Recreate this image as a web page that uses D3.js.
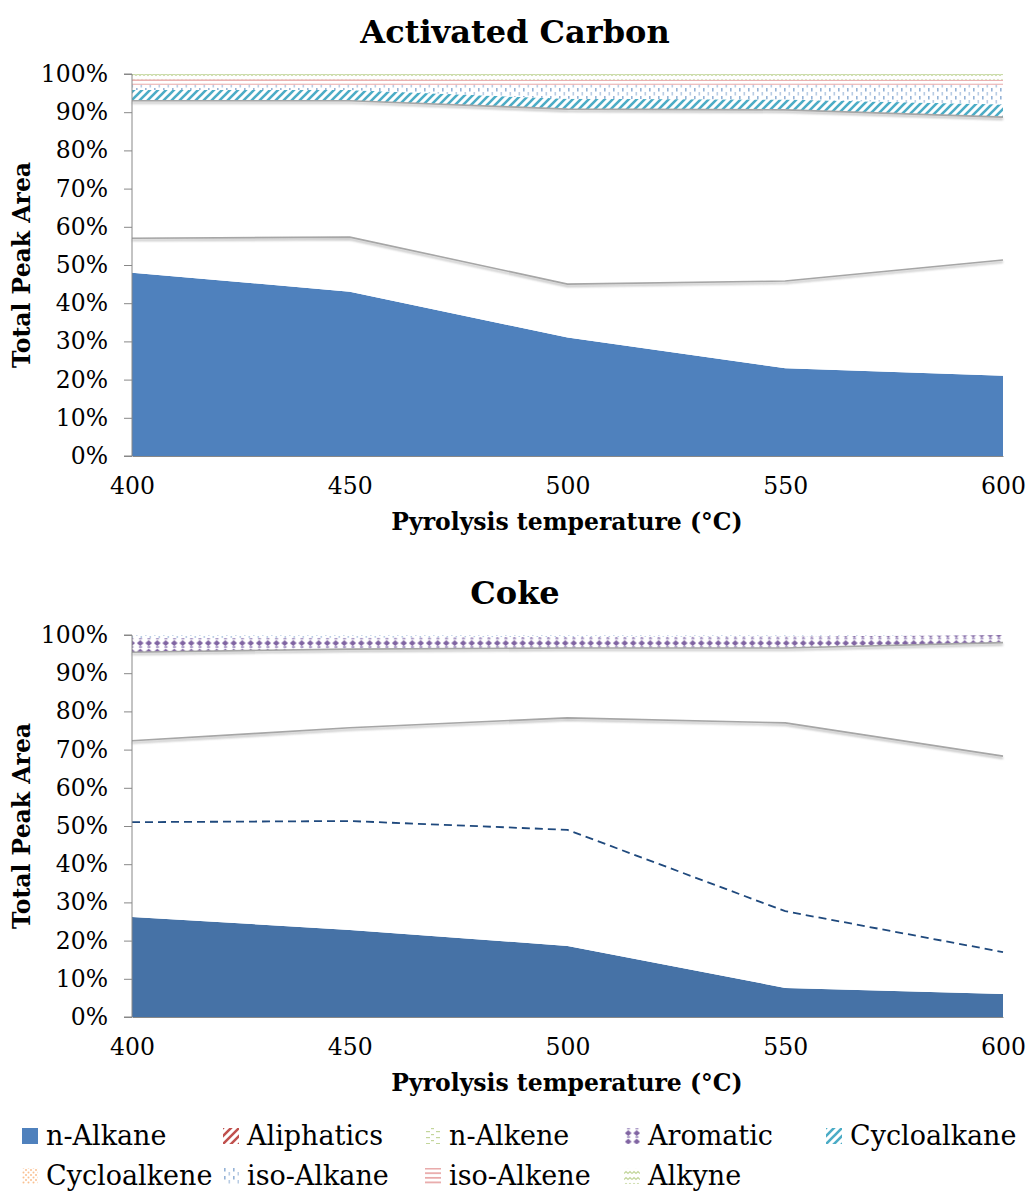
<!DOCTYPE html>
<html>
<head>
<meta charset="utf-8">
<script src="https://cdn.jsdelivr.net/npm/d3@7"></script>
<style>
  body { margin: 0; background: #fff; }
  text { font-family: "DejaVu Serif", serif; fill: #000; }
</style>
</head>
<body>
<svg id="chart" width="1027" height="1194"></svg>
<script>
// ---- data (share of total peak area, %) ----
var temps = [400, 450, 500, 550, 600];
var xTicks = [400, 450, 500, 550, 600];
var yTicks = [0, 10, 20, 30, 40, 50, 60, 70, 80, 90, 100];
var legendKeys = ["n-Alkane", "Aliphatics", "n-Alkene", "Aromatic", "Cycloalkane",
                  "Cycloalkene", "iso-Alkane", "iso-Alkene", "Alkyne"];

// Activated carbon, per layer
var acAlkane      = [48, 43, 31, 23, 21];
var acAliphatics  = [9, 14.3, 14, 22.8, 30.3];
var acAlkene      = [36, 35.7, 45.8, 44.8, 37.4];
var acAromatic    = [0, 0, 0, 0, 0];
var acCycloalkane = [2.8, 2.8, 2.7, 2.7, 3.3];
var acCycloalkene = [0, 0, 0, 0, 0];
var acIsoAlkane   = [1.4, 1.4, 3.7, 3.9, 5.2];
var acIsoAlkene   = [1.4, 1.4, 1.3, 1.3, 1.3];
var acAlkyne      = [1.4, 1.4, 1.5, 1.5, 1.5];

// Coke, per layer
var cokeAlkane      = [26.2, 22.8, 18.6, 7.6, 6];
var cokeAliphatics  = [24.8, 28.5, 30.4, 20.1, 11];
var cokeAlkene      = [21.3, 24.4, 29.3, 49.3, 51.3];
var cokeCycloalkane = [23.2, 20.6, 18.3, 19.6, 29.7];
var cokeAromatic    = [3.7, 3, 2.9, 3, 2];
var cokeIsoAlkane   = [0.8, 0.7, 0.5, 0.4, 0];
var cokeCycloalkene = [0, 0, 0, 0, 0];
var cokeIsoAlkene   = [0, 0, 0, 0, 0];
var cokeAlkyne      = [0, 0, 0, 0, 0];

var svg = d3.select("#chart");
var defs = svg.append("defs");

// drop shadow for the grey edges
var f = defs.append("filter").attr("id", "shadow")
  .attr("x", "-5%").attr("y", "-50%").attr("width", "110%").attr("height", "300%");
f.append("feDropShadow").attr("dx", 0).attr("dy", 2).attr("stdDeviation", 1.2)
  .attr("flood-color", "#808080").attr("flood-opacity", 0.6);

function pattern(id, w, h) {
  var p = defs.append("pattern").attr("id", id)
    .attr("patternUnits", "userSpaceOnUse").attr("width", w).attr("height", h);
  p.append("rect").attr("width", w).attr("height", h).attr("fill", "#fff");
  return p;
}

var p;
p = pattern("p-aliph", 8, 8);
p.append("path").attr("d", "M-2,2 L2,-2 M0,8 L8,0 M6,10 L10,6")
  .attr("stroke", "#c0504d").attr("stroke-width", 2.5);

p = pattern("p-alkene", 10, 6);
p.append("rect").attr("x", 1).attr("y", 1).attr("width", 4).attr("height", 1.2).attr("fill", "#c3d69b");
p.append("rect").attr("x", 6).attr("y", 4).attr("width", 3).attr("height", 1.2).attr("fill", "#c3d69b");

p = pattern("p-arom", 8.5, 8.5);
p.append("rect").attr("x", 3).attr("y", 0.3).attr("width", 3).attr("height", 1.4).attr("fill", "#8f7ab5");
p.append("path").attr("d", "M4.25,2.6 L7.6,5.6 L4.25,8.6 L0.9,5.6Z").attr("fill", "#8064a2");

p = pattern("p-cyclo", 8, 8);
p.append("path").attr("d", "M-2,2 L2,-2 M0,8 L8,0 M6,10 L10,6")
  .attr("stroke", "#4bacc6").attr("stroke-width", 2.6);

p = pattern("p-cyclene", 5, 5);
p.append("circle").attr("cx", 1.5).attr("cy", 1.5).attr("r", 1).attr("fill", "#fac090");
p.append("circle").attr("cx", 4).attr("cy", 4).attr("r", 1).attr("fill", "#fac090");

p = pattern("p-isoalk", 9, 8);
p.append("rect").attr("x", 1).attr("y", 0).attr("width", 1.6).attr("height", 3.5).attr("fill", "#95b3d7");
p.append("rect").attr("x", 5.5).attr("y", 4).attr("width", 1.6).attr("height", 3.5).attr("fill", "#b8cce4");

p = pattern("p-isoene", 8, 4.6);
p.append("rect").attr("x", 0).attr("y", 1).attr("width", 8).attr("height", 1.6).attr("fill", "#e6a0a0");

p = pattern("p-alkyne", 8, 6);
p.append("path").attr("d", "M0,3.5 L2,1.5 L4,3.5 L6,1.5 L8,3.5")
  .attr("fill", "none").attr("stroke", "#c3d69b").attr("stroke-width", 1.2);

var patternOf = {
  "Aliphatics": "url(#p-aliph)",
  "n-Alkene": "url(#p-alkene)",
  "Aromatic": "url(#p-arom)",
  "Cycloalkane": "url(#p-cyclo)",
  "Cycloalkene": "url(#p-cyclene)",
  "iso-Alkane": "url(#p-isoalk)",
  "iso-Alkene": "url(#p-isoene)",
  "Alkyne": "url(#p-alkyne)"
};

var x = d3.scaleLinear().domain([400, 600]).range([132, 1003]);

function drawChart(cfg) {
  var top = cfg.top, bottom = cfg.top + 382;
  var y = d3.scaleLinear().domain([0, 100]).range([bottom, top]);
  var g = svg.append("g");

  var rows = temps.map(function(t, i) {
    var r = { temp: t };
    cfg.order.forEach(function(k) { r[k] = cfg.values[k][i]; });
    return r;
  });
  var series = d3.stack().keys(cfg.order)(rows);

  var area = d3.area()
    .x(function(d) { return x(d.data.temp); })
    .y0(function(d) { return y(d[0]); })
    .y1(function(d) { return y(d[1]); });
  var topLine = d3.line()
    .x(function(d) { return x(d.data.temp); })
    .y(function(d) { return y(d[1]); });

  series.forEach(function(s) {
    var k = s.key;
    var fill;
    if (k == "n-Alkane") fill = cfg.blue;
    else if (cfg.plain[k]) fill = "#fff";
    else fill = patternOf[k];
    g.append("path").attr("d", area(s)).attr("fill", fill);
  });

  // edges of the unfilled layers
  series.forEach(function(s) {
    var edge = cfg.plain[s.key];
    if (!edge) return;
    if (edge == "dash") {
      g.append("path").attr("d", topLine(s)).attr("fill", "none")
        .attr("stroke", "#1f497d").attr("stroke-width", 1.8)
        .attr("stroke-dasharray", "8,5");
    } else {
      g.append("path").attr("d", topLine(s)).attr("fill", "none")
        .attr("stroke", "#a6a6a6").attr("stroke-width", 1.6)
        .attr("filter", "url(#shadow)");
    }
  });

  // axes
  var yAxis = g.append("g").attr("transform", "translate(132,0)")
    .call(d3.axisLeft(y).tickValues(yTicks).tickSize(8).tickPadding(16)
      .tickFormat(function(d) { return d + "%"; }));
  yAxis.select(".domain").attr("stroke", "#888").attr("d", "M-8," + y(0) + "H0V" + y(100) + "H-8");
  yAxis.selectAll(".tick line").attr("stroke", "#888");
  yAxis.selectAll("text").style("font-family", "DejaVu Serif").style("font-size", "23.5px");

  var xAxis = g.append("g").attr("transform", "translate(0," + bottom + ")")
    .call(d3.axisBottom(x).tickValues(xTicks).tickSize(0).tickPadding(21));
  xAxis.select(".domain").attr("stroke", "#888");
  xAxis.selectAll("text").style("font-family", "DejaVu Serif").style("font-size", "23.5px");

  g.append("text").attr("x", 515).attr("y", top - 31)
    .attr("text-anchor", "middle").style("font-size", "32px").style("font-weight", "bold")
    .text(cfg.title);
  g.append("text").attr("x", 567).attr("y", bottom + 74)
    .attr("text-anchor", "middle").style("font-size", "23.5px").style("font-weight", "bold")
    .text("Pyrolysis temperature (°C)");
  g.append("text").attr("transform", "translate(30," + (top + 191) + ") rotate(-90)")
    .attr("text-anchor", "middle").style("font-size", "23.5px").style("font-weight", "bold")
    .text("Total Peak Area");
}

drawChart({
  title: "Activated Carbon",
  top: 74,
  blue: "#4f81bd",
  order: ["n-Alkane", "Aliphatics", "n-Alkene", "Aromatic", "Cycloalkane",
          "Cycloalkene", "iso-Alkane", "iso-Alkene", "Alkyne"],
  values: {
    "n-Alkane": acAlkane, "Aliphatics": acAliphatics, "n-Alkene": acAlkene,
    "Aromatic": acAromatic, "Cycloalkane": acCycloalkane, "Cycloalkene": acCycloalkene,
    "iso-Alkane": acIsoAlkane, "iso-Alkene": acIsoAlkene, "Alkyne": acAlkyne
  },
  plain: { "Aliphatics": "grey", "n-Alkene": "grey" }
});

drawChart({
  title: "Coke",
  top: 635,
  blue: "#4672a6",
  order: ["n-Alkane", "Aliphatics", "n-Alkene", "Cycloalkane", "Aromatic",
          "iso-Alkane", "Cycloalkene", "iso-Alkene", "Alkyne"],
  values: {
    "n-Alkane": cokeAlkane, "Aliphatics": cokeAliphatics, "n-Alkene": cokeAlkene,
    "Aromatic": cokeAromatic, "Cycloalkane": cokeCycloalkane, "Cycloalkene": cokeCycloalkene,
    "iso-Alkane": cokeIsoAlkane, "iso-Alkene": cokeIsoAlkene, "Alkyne": cokeAlkyne
  },
  plain: { "Aliphatics": "dash", "n-Alkene": "grey", "Cycloalkane": "grey" }
});

// ---- legend ----
var legendX = [22, 223, 425, 624, 826];
var legend = svg.append("g").selectAll("g")
  .data(legendKeys)
  .enter().append("g")
  .attr("transform", function(d, i) {
    return "translate(" + legendX[i % 5] + "," + (i < 5 ? 1136 : 1176) + ")";
  });
legend.append("rect")
  .attr("x", 0).attr("y", -8).attr("width", 16).attr("height", 16)
  .attr("fill", function(d) { return d == "n-Alkane" ? "#4f81bd" : patternOf[d]; });
legend.append("text")
  .attr("x", 24).attr("y", 9)
  .style("font-size", "27px")
  .text(function(d) { return d; });
</script>
</body>
</html>
